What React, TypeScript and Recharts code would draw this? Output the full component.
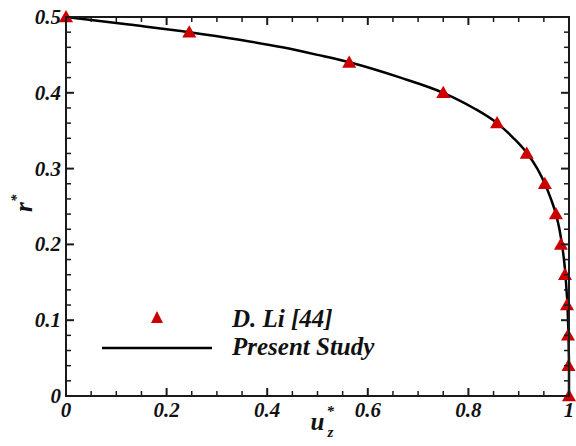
import React from "react";
import { ComposedChart, Line, Scatter, XAxis, YAxis, Legend } from "recharts";

// D. Li [44] reference points (u*, r*)
const liU = [0, 0.245, 0.563, 0.75, 0.857, 0.916, 0.952, 0.974, 0.984, 0.992, 0.996, 0.998, 0.999, 1.0];
const liR = [0.5, 0.48, 0.44, 0.4, 0.36, 0.32, 0.28, 0.24, 0.2, 0.16, 0.12, 0.08, 0.04, 0];

// Present study curve
const studyR = [0.5, 0.49, 0.48, 0.47, 0.46, 0.45, 0.44, 0.42, 0.4, 0.38, 0.36, 0.34, 0.32, 0.3, 0.28, 0.26, 0.24, 0.22, 0.2, 0.18, 0.16, 0.14, 0.12, 0.1, 0.08, 0.06, 0.04, 0.02, 0];
const studyU = [0, 0.125, 0.245, 0.345, 0.43, 0.5, 0.565, 0.665, 0.75, 0.81, 0.857, 0.89, 0.917, 0.937, 0.952, 0.964, 0.974, 0.981, 0.986, 0.99, 0.993, 0.995, 0.997, 0.998, 0.999, 0.9995, 1.0, 1.0, 1.0];

const xMajor = [0, 0.2, 0.4, 0.6, 0.8, 1];
const xMajorLabels = ["0", "0.2", "0.4", "0.6", "0.8", "1"];
const xTicks = [0, 0.05, 0.1, 0.15, 0.2, 0.25, 0.3, 0.35, 0.4, 0.45, 0.5, 0.55, 0.6, 0.65, 0.7, 0.75, 0.8, 0.85, 0.9, 0.95, 1];
const yMajor = [0, 0.1, 0.2, 0.3, 0.4, 0.5];
const yMajorLabels = ["0", "0.1", "0.2", "0.3", "0.4", "0.5"];
const yTicks = [0, 0.02, 0.04, 0.06, 0.08, 0.1, 0.12, 0.14, 0.16, 0.18, 0.2, 0.22, 0.24, 0.26, 0.28, 0.3, 0.32, 0.34, 0.36, 0.38, 0.4, 0.42, 0.44, 0.46, 0.48, 0.5];

const liData = liU.map((u, i) => ({ u, r: liR[i] }));
const studyData = studyU.map((u, i) => ({ u, r: studyR[i] }));

const FONT = "Liberation Serif, Tinos, Times New Roman, serif";
const AXIS = "#1a1a1a";
const RED = "#cc0000";
const MAJOR = 8;
const MINOR = 5;

// plot box (chart margins + axis sizes below give this box)
const PLOT = { left: 66, top: 17, width: 503, height: 379 };
const X_MAX = 1;
const Y_MAX = 0.5;

const majorIdx = (v: number, list: number[]) => list.findIndex((m) => Math.abs(m - v) < 1e-6);

const serif = (size: number) => ({
  style: { fontFamily: FONT, fontWeight: 700, fontStyle: "italic", fontSize: size },
  fill: "#111",
});

const BottomLabel = (props: any) => {
  const { x, y, payload } = props;
  const i = majorIdx(payload.value, xMajor);
  if (i < 0) return null;
  return (
    <text x={x} y={y + 21} textAnchor="middle" {...serif(21)}>
      {xMajorLabels[i]}
    </text>
  );
};

const LeftLabel = (props: any) => {
  const { x, y, payload } = props;
  const i = majorIdx(payload.value, yMajor);
  if (i < 0) return null;
  return (
    <text x={x - 5} y={y + 7} textAnchor="end" {...serif(21)}>
      {yMajorLabels[i]}
    </text>
  );
};

const Triangle = (props: any) => {
  const { cx, cy } = props;
  const s = 7;
  return <polygon points={`${cx},${cy - s} ${cx - s},${cy + s * 0.75} ${cx + s},${cy + s * 0.75}`} fill={RED} />;
};

const XLabel = (props: any) => {
  const { viewBox } = props;
  const cx = viewBox.x + viewBox.width / 2;
  const base = viewBox.y + 34;
  return (
    <g>
      <text x={cx} y={base} textAnchor="middle" {...serif(25)}>u</text>
      <text x={cx + 9} y={base - 14} {...serif(15)}>*</text>
      <text x={cx + 10} y={base + 7} {...serif(15)}>z</text>
    </g>
  );
};

const YLabel = () => (
  <g transform="translate(32, 212) rotate(-90)">
    <text x={0} y={0} {...serif(25)}>r</text>
    <text x={10} y={-11} {...serif(15)}>*</text>
  </g>
);

const LegendBox = () => (
  <svg width={260} height={64} style={{ overflow: "visible", display: "block" }}>
    <polygon points="62,13 56,25 68,25" fill={RED} />
    <line x1={7} x2={117} y1={50} y2={50} stroke="#000" strokeWidth={2.5} />
    <text x={137} y={29} {...serif(25)}>D. Li [44]</text>
    <text x={137} y={57} {...serif(25)}>Present Study</text>
  </svg>
);

// box frame with inward ticks on all four sides
const Frame = () => {
  const px = (v: number) => PLOT.left + (v / X_MAX) * PLOT.width;
  const py = (v: number) => PLOT.top + PLOT.height - (v / Y_MAX) * PLOT.height;
  const bottom = PLOT.top + PLOT.height;
  const right = PLOT.left + PLOT.width;
  return (
    <svg width={576} height={446} style={{ position: "absolute", left: 0, top: 0, pointerEvents: "none" }}>
      {xTicks.map((v) => {
        const len = majorIdx(v, xMajor) >= 0 ? MAJOR : MINOR;
        const x = px(v);
        return (
          <g key={`x${v}`} stroke={AXIS} strokeWidth={len === MAJOR ? 2 : 1.5}>
            <line x1={x} x2={x} y1={bottom} y2={bottom - len} />
            <line x1={x} x2={x} y1={PLOT.top} y2={PLOT.top + len} />
          </g>
        );
      })}
      {yTicks.map((v) => {
        const len = majorIdx(v, yMajor) >= 0 ? MAJOR : MINOR;
        const y = py(v);
        return (
          <g key={`y${v}`} stroke={AXIS} strokeWidth={len === MAJOR ? 2 : 1.5}>
            <line x1={PLOT.left} x2={PLOT.left + len} y1={y} y2={y} />
            <line x1={right} x2={right - len} y1={y} y2={y} />
          </g>
        );
      })}
      <rect x={PLOT.left} y={PLOT.top} width={PLOT.width} height={PLOT.height} fill="none" stroke={AXIS} strokeWidth={2} />
    </svg>
  );
};

export default function App() {
  return (
    <div style={{ position: "absolute", left: 0, top: 0, width: 576, height: 446, background: "#fff" }}>
      <ComposedChart width={576} height={446} margin={{ top: 17, right: 7, left: 0, bottom: 0 }}>
        <XAxis
          dataKey="u"
          type="number"
          domain={[0, X_MAX]}
          ticks={xMajor}
          interval={0}
          height={50}
          tickSize={0}
          tickMargin={0}
          tickLine={false}
          tick={<BottomLabel />}
          axisLine={false}
          label={<XLabel />}
        />
        <YAxis
          dataKey="r"
          type="number"
          domain={[0, Y_MAX]}
          ticks={yMajor}
          interval={0}
          width={66}
          tickSize={0}
          tickMargin={0}
          tickLine={false}
          tick={<LeftLabel />}
          axisLine={false}
          label={<YLabel />}
        />
        <Line
          data={studyData}
          dataKey="r"
          type="monotone"
          stroke="#000"
          strokeWidth={2.5}
          dot={false}
          isAnimationActive={false}
          legendType="none"
        />
        <Scatter
          data={liData}
          dataKey="r"
          fill={RED}
          shape={<Triangle />}
          isAnimationActive={false}
          legendType="none"
        />
        <Legend
          layout="horizontal"
          verticalAlign="middle"
          align="center"
          content={<LegendBox />}
          wrapperStyle={{ position: "absolute", left: 95, top: 298, width: 260, height: 64 }}
        />
      </ComposedChart>
      <Frame />
    </div>
  );
}
